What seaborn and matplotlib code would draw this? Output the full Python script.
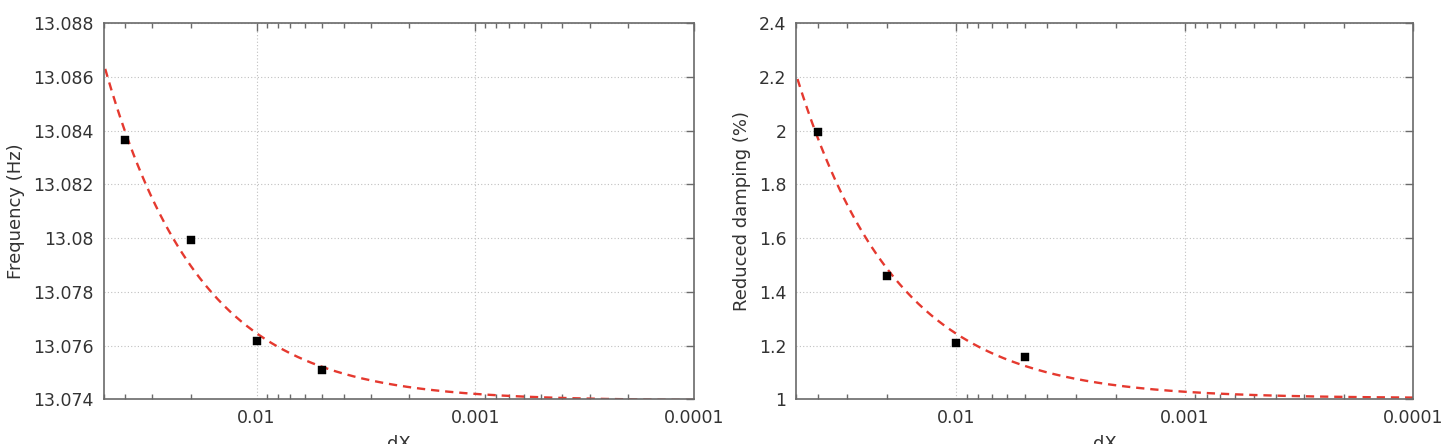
import numpy as np
import pandas as pd
import matplotlib
matplotlib.use("Agg")
import matplotlib.pyplot as plt
import matplotlib.ticker as mticker
import seaborn as sns

# ---- data ----
dx = [0.04, 0.02, 0.01, 0.005]
frequency = [13.08366, 13.07993, 13.07616, 13.07509]
damping = [1.997, 1.459, 1.209, 1.158]

# fitted model lines  y = y0 + c * dX
freq_fit_y0, freq_fit_c = 13.07395, 0.251
damp_fit_y0, damp_fit_c = 1.004, 24.06

x_ticks = [0.01, 0.001, 0.0001]
x_ticklabels = ["0.01", "0.001", "0.0001"]
freq_ticks = [13.074, 13.076, 13.078, 13.08, 13.082, 13.084, 13.086, 13.088]
freq_ticklabels = ["13.074", "13.076", "13.078", "13.08", "13.082", "13.084", "13.086", "13.088"]
damp_ticks = [1, 1.2, 1.4, 1.6, 1.8, 2, 2.2, 2.4]
damp_ticklabels = ["1", "1.2", "1.4", "1.6", "1.8", "2", "2.2", "2.4"]

sns.set_theme(style="white")
plt.rcParams['font.family'] = ['DejaVu Sans']

fig = plt.figure(figsize=(14.56, 4.44), dpi=100)
ax1 = fig.add_axes([103.7 / 1456, 44.7 / 444, (694 - 103.7) / 1456, 376 / 444])
ax2 = fig.add_axes([796.3 / 1456, 44.7 / 444, (1413.3 - 796.3) / 1456, 376 / 444])

xfit = np.logspace(np.log10(0.05), np.log10(0.0001), 400)

panels = [
    (ax1, frequency, freq_fit_y0, freq_fit_c, freq_ticks, freq_ticklabels, "Frequency (Hz)"),
    (ax2, damping, damp_fit_y0, damp_fit_c, damp_ticks, damp_ticklabels, "Reduced damping (%)"),
]

text_color = "#333333"
spine_color = "#6a6a6a"

for ax, yvals, y0, c, yt, ytl, ylab in panels:
    fit_df = pd.DataFrame({"dX": xfit, "y": y0 + c * xfit})
    pts_df = pd.DataFrame({"dX": dx, "y": yvals})
    sns.lineplot(data=fit_df, x="dX", y="y", ax=ax, color="#e5392f", lw=1.7,
                 linestyle=(0, (3.5, 2.5)), zorder=2)
    sns.scatterplot(data=pts_df, x="dX", y="y", ax=ax, marker="s", s=40,
                    color="black", edgecolor="black", linewidth=0.3, zorder=3)
    ax.set_xscale("log")
    ax.set_xlim(0.05, 0.0001)
    ax.set_ylim(yt[0], yt[-1])
    ax.set_xticks(x_ticks)
    ax.set_xticklabels(x_ticklabels)
    ax.xaxis.set_minor_locator(mticker.LogLocator(base=10, subs=np.arange(2, 10)))
    ax.xaxis.set_minor_formatter(mticker.NullFormatter())
    ax.set_yticks(yt)
    ax.set_yticklabels(ytl)
    ax.tick_params(axis="both", which="major", direction="in", length=6, width=1,
                   color=spine_color, top=True, right=True, labelsize=12.5,
                   labelcolor=text_color, pad=7)
    ax.tick_params(axis="x", which="minor", direction="in", length=3.5, width=1,
                   color=spine_color, top=True, bottom=True)
    ax.grid(True, which="major", linestyle=(0, (1, 2)), color="#c0c0c0", lw=0.8)
    for sp in ax.spines.values():
        sp.set_color(spine_color)
        sp.set_linewidth(1.2)
    ax.set_xlabel("dX", fontsize=13, color=text_color, labelpad=6)
    ax.set_ylabel(ylab, fontsize=13, color=text_color, labelpad=6)

fig.savefig("out.png", dpi=100)
